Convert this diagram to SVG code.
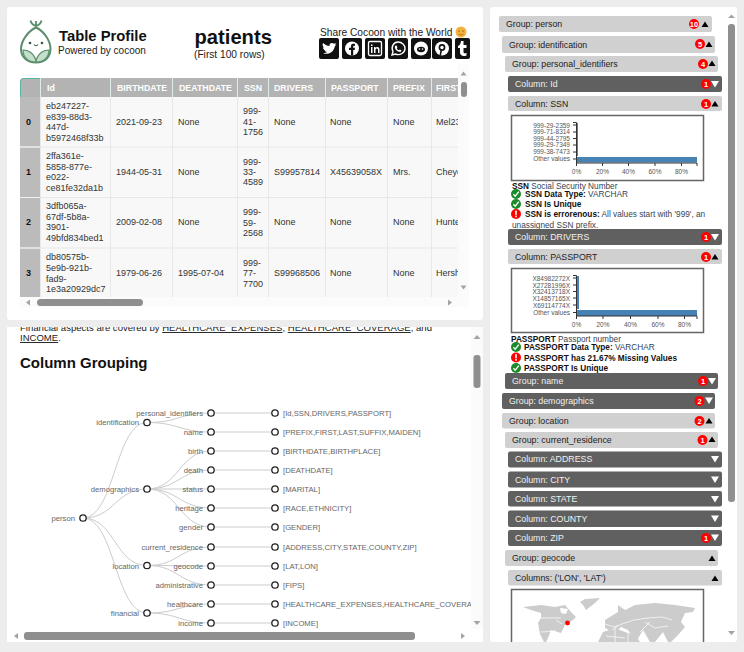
<svg xmlns="http://www.w3.org/2000/svg" width="744" height="652" viewBox="0 0 744 652">
<style>
text{font-family:"Liberation Sans",Arial,sans-serif}
.t{font-size:9px;fill:#333}
.i{font-size:9px;font-weight:bold;fill:#111}
.h{font-size:8.800px;font-weight:bold;fill:#fff}
.vl{stroke:#e8e8e8;stroke-width:1}
.hs{stroke:#dbeee9;stroke-width:1}
.tree{font-size:7.700px;fill:#666}
.link{fill:none;stroke:#ccc;stroke-width:1}
.dot{fill:#fff;stroke:#222;stroke-width:1.3}
.bl{fill:#d0d0d0}
.bd{fill:#606060}
.lt{font-size:8.800px;fill:#222}
.dt{font-size:8.800px;fill:#f0f0f0}
.bad{fill:#f00}
.num{font-size:7.500px;font-weight:bold;fill:#fff;text-anchor:middle}
.up{fill:#000}
.dn{fill:#fff}
.sb{fill:#8f8f8f}
.ar{fill:#a3a3a3}
.ax{font-size:6.500px;fill:#555}
.axr{text-anchor:end}
.axm{text-anchor:middle}
.axl{stroke:#333;stroke-width:1;fill:none}
.bar{fill:#4682b4}
.box{fill:#fff;stroke:#666;stroke-width:1.5}
.d{font-size:8.250px;fill:#345}
.db{font-size:8.250px;font-weight:bold;fill:#111}
.ok{fill:#1a8a2a}
.ic{fill:#fff}
.soc{fill:#111}
.land{fill:#ccc}
</style>
<defs>
<clipPath id="tbl"><rect x="20" y="78" width="438" height="219"/></clipPath>
<clipPath id="low"><rect x="7" y="327" width="464" height="315"/></clipPath>
<clipPath id="map"><rect x="512" y="590" width="191" height="52"/></clipPath>
<path id="tu" d="M-3.500 2.500L0-3 3.500 2.500Z"/>
<path id="td" d="M-4-3H4L0 3.500Z"/>
<g id="okc"><circle r="5" class="ok"/><path d="M-2.600 .2L-.8 2.200 2.800-2.400" fill="none" stroke="#fff" stroke-width="1.300"/></g>
<g id="err"><circle r="5" class="bad"/><rect x="-.8" y="-3.400" width="1.600" height="4.200" fill="#fff"/><rect x="-.8" y="1.600" width="1.600" height="1.600" fill="#fff"/></g>
</defs>

<rect width="744" height="652" fill="#ededed"/>
<rect x="7" y="7" width="476" height="313" rx="3" fill="#fff"/>
<rect x="7" y="327" width="476" height="315" fill="#fff"/>
<rect x="490" y="7" width="247" height="635" rx="3" fill="#fff"/>

<g id="logo">
<path d="M36 21V28M36 26C33 25 31 23 30.500 20.500M36 26C39 25 41 23 41.500 20.500" fill="none" stroke="#5d8f6d" stroke-width="1.800"/>
<path d="M36 27.500C28 31 21 41 21 49C21 57 27 62.500 36 62.500C45 62.500 50.500 57 50.500 49C50.500 41 44 31 36 27.500Z" fill="#fff" stroke="#5d8f6d" stroke-width="2"/>
<path d="M36 62C28 62 23 57 23 50C29 50 35 54 36 62ZM36 62C44 62 49 57 49 50C43 50 37 54 36 62Z" fill="#c4e0cd" stroke="#5d8f6d" stroke-width="1.200"/>
<circle cx="30" cy="43" r="1.300" fill="#2e5a3c"/><circle cx="42" cy="43" r="1.300" fill="#2e5a3c"/>
<path d="M34 44.500Q36 47 38 44.500" fill="none" stroke="#2e5a3c" stroke-width="1.100"/>
</g>
<g id="title">
<text x="59" y="41" font-size="14.800" font-weight="bold" fill="#111">Table Profile</text>
<text x="58" y="54" font-size="10" fill="#222">Powered by cocoon</text>
<text x="194.500" y="44" font-size="20.200" font-weight="bold" fill="#111">patients</text>
<text x="194" y="58" font-size="10.200" fill="#222">(First 100 rows)</text>
<text x="320" y="36" font-size="10.200" fill="#222">Share Cocoon with the World</text>
<circle cx="461" cy="32" r="5.500" fill="#f4b23c"/>
<path d="M458 31.500Q459 30 460 31.500M462 31.500Q463 30 464 31.500M458.500 34Q461 36.500 463.500 34" fill="none" stroke="#a5601c" stroke-width=".8"/>
</g>
<g id="social">
<rect class="soc" x="319" y="38" width="20" height="21" rx="2"/>
<path class="ic" d="M322 53C325 54.500 333 55 335 46L336.500 44.500 335 44.800 336 43 334 43.800C332 42 329 43.500 329.500 46C327 46 324.500 44.500 323 43C322 45 323 47 324 47.500L323 47.300C323 49 324 50 325.500 50.500L324.500 50.600C325 51.500 326 52 327 52C326 53 324 53.500 322 53Z"/>
<rect class="soc" x="342" y="38" width="20" height="21" rx="2"/>
<circle class="ic" cx="352" cy="48.500" r="7"/><path class="soc" d="M351 55.500V50H349V47.800H351V46C351 44 352.500 43.500 355 43.800V45.800C353.500 45.600 353.200 46 353.200 47V47.800H355L354.700 50H353.200V55.500Z"/>
<rect class="soc" x="365" y="38" width="20" height="21" rx="2"/>
<rect x="368.500" y="41.500" width="13" height="14" rx="1.500" fill="none" stroke="#fff" stroke-width="1.300"/>
<path class="ic" d="M371 47H372.500V53H371ZM371 44.500H372.500V46H371ZM374 47H375.500V48C376.500 46.500 379.500 46.500 379.500 49.500V53H378V50C378 48 375.500 48 375.500 50V53H374Z"/>
<rect class="soc" x="388" y="38" width="20" height="21" rx="2"/>
<path d="M392 55L393 51.500C390.500 46.500 394 42 398 42C402 42 405 45 405 48.500C405 52.500 400 56 395.500 54Z" fill="none" stroke="#fff" stroke-width="1.400"/>
<path class="ic" d="M395 46C394 48.500 397 52 400.500 52L401.500 50.500 399.800 49.500 399 50.300C398 50 397 49 396.800 48L397.500 47.300 396.500 45.500Z"/>
<rect class="soc" x="411" y="38" width="20" height="21" rx="2"/>
<circle class="ic" cx="421" cy="48.500" r="7"/><ellipse class="soc" cx="421" cy="49.500" rx="4" ry="2.800"/><circle class="ic" cx="419.500" cy="49" r=".8"/><circle class="ic" cx="422.500" cy="49" r=".8"/>
<rect class="soc" x="432" y="38" width="20" height="21" rx="2"/>
<circle class="ic" cx="442" cy="48.500" r="7"/><circle class="soc" cx="442" cy="47.500" r="3.400"/><circle class="ic" cx="442" cy="47.500" r="1.700"/><path class="soc" d="M440.500 50L439.500 55.500H441L442 51Z"/>
<rect class="soc" x="455" y="38" width="15" height="21" rx="2"/>
<path class="ic" d="M461 41H463.500V45H466.500V48H463.500V52C463.500 53.500 465 53.500 466.500 53V55.500C463 57 460 55.500 460 52.500V48H458V46C460 45.500 460.700 43.500 461 41Z"/>
</g>

<g id="table" clip-path="url(#tbl)">
<rect x="20" y="78" width="438" height="219" fill="#f8f8f8"/>
<path d="M20 97V81.500Q20 78 24 78H458V97Z" fill="#b3b3b3"/>
<rect x="20" y="97" width="20" height="200" fill="#bbb"/>
<path d="M20.500 97V82Q20.500 78.500 24 78.500H40" fill="none" stroke="#5cb8a4"/>
<g class="hs"><path d="M40.500 78V97M110.500 78V97M172.500 78V97M237.500 78V97M268.500 78V97M325.500 78V97M387.500 78V97M431.500 78V97"/></g>
<g class="vl"><path d="M40.500 97V297M110.500 97V297M172.500 97V297M237.500 97V297M268.500 97V297M325.500 97V297M387.500 97V297M431.500 97V297M20 147H458M20 197.500H458M20 248H458"/></g>
<path d="M20 147H40M20 197.500H40M20 248H40" stroke="#f0f0f0"/>
<text class="h" x="47" y="91">Id</text><text class="h" x="117" y="91">BIRTHDATE</text><text class="h" x="179" y="91">DEATHDATE</text><text class="h" x="244" y="91">SSN</text><text class="h" x="274" y="91">DRIVERS</text><text class="h" x="331" y="91">PASSPORT</text><text class="h" x="393" y="91">PREFIX</text><text class="h" x="436" y="91">FIRST</text>
<text class="i" x="26" y="125">0</text><text class="i" x="26" y="175">1</text><text class="i" x="26" y="225">2</text><text class="i" x="26" y="276">3</text>
<text class="t" x="46" y="109">eb247227-</text><text class="t" x="46" y="119.500">e839-88d3-</text><text class="t" x="46" y="130">447d-</text><text class="t" x="46" y="141">b5972468f33b</text>
<text class="t" x="46" y="159">2ffa361e-</text><text class="t" x="46" y="170">5858-877e-</text><text class="t" x="46" y="180">e022-</text><text class="t" x="46" y="191">ce81fe32da1b</text>
<text class="t" x="46" y="209">3dfb065a-</text><text class="t" x="46" y="219.500">67df-5b8a-</text><text class="t" x="46" y="230">3901-</text><text class="t" x="46" y="241">49bfd834bed1</text>
<text class="t" x="46" y="260">db80575b-</text><text class="t" x="46" y="271">5e9b-921b-</text><text class="t" x="46" y="281.500">fad9-</text><text class="t" x="46" y="292">1e3a20929dc7</text>
<text class="t" x="116" y="125">2021-09-23</text><text class="t" x="116" y="175">1944-05-31</text><text class="t" x="116" y="225">2009-02-08</text><text class="t" x="116" y="276">1979-06-26</text>
<text class="t" x="178" y="125">None</text><text class="t" x="178" y="175">None</text><text class="t" x="178" y="225">None</text><text class="t" x="178" y="276">1995-07-04</text>
<text class="t" x="243" y="114">999-</text><text class="t" x="243" y="125">41-</text><text class="t" x="243" y="135">1756</text>
<text class="t" x="243" y="164.500">999-</text><text class="t" x="243" y="175">33-</text><text class="t" x="243" y="185">4589</text>
<text class="t" x="243" y="215">999-</text><text class="t" x="243" y="226">59-</text><text class="t" x="243" y="236">2568</text>
<text class="t" x="243" y="266">999-</text><text class="t" x="243" y="276">77-</text><text class="t" x="243" y="287">7700</text>
<text class="t" x="274" y="125">None</text><text class="t" x="274" y="175">S99957814</text><text class="t" x="274" y="225">None</text><text class="t" x="274" y="276">S99968506</text>
<text class="t" x="330" y="125">None</text><text class="t" x="330" y="175">X45639058X</text><text class="t" x="330" y="225">None</text><text class="t" x="330" y="276">None</text>
<text class="t" x="393" y="125">None</text><text class="t" x="393" y="175">Mrs.</text><text class="t" x="393" y="225">None</text><text class="t" x="393" y="276">None</text>
<text class="t" x="436" y="125">Mel23</text><text class="t" x="436" y="175">Cheyenne</text><text class="t" x="436" y="225">Hunter</text><text class="t" x="436" y="276">Hershel</text>
</g>
<g id="table-scrollbars">
<rect x="458" y="64" width="11" height="243" fill="#fbfbfb"/>
<rect x="19" y="297" width="450" height="10" fill="#fbfbfb"/>
<rect class="sb" x="461" y="82" width="6" height="15" rx="3"/>
<rect class="sb" x="37" y="299" width="106" height="7" rx="3.500"/>
<path class="ar" d="M463.500 71.500L466.500 75.500H460.500ZM463.500 289.500L466.500 285.500H460.500ZM26 302.500L30 299.500V305.500ZM452 302.500L448 299.500V305.500Z"/>
</g>

<g clip-path="url(#low)">
<g id="article">
<text x="20" y="331" font-size="9.550" fill="#222">Financial aspects are covered by <tspan text-decoration="underline">HEALTHCARE_EXPENSES</tspan>, <tspan text-decoration="underline">HEALTHCARE_COVERAGE</tspan>, and</text>
<text x="20" y="341" font-size="9.550" fill="#222"><tspan text-decoration="underline">INCOME</tspan>.</text>
<text x="20" y="368" font-size="15" font-weight="bold" fill="#111">Column Grouping</text>
</g>
<g id="connectors">
<path class="link" d="M83 518C115 518 115 422.500 147 422.500M83 518C115 518 115 489 147 489M83 518C115 518 115 565.500 147 565.500M83 518C115 518 115 613 147 613"/>
<path class="link" d="M147 422.500C179 422.500 179 413 211 413M147 422.500C179 422.500 179 432 211 432M147 489C179 489 179 451 211 451M147 489C179 489 179 470 211 470M147 489H211M147 489C179 489 179 508 211 508M147 489C179 489 179 527 211 527M147 565.500C179 565.500 179 547 211 547M147 565.500C179 565.500 179 566 211 566M147 565.500C179 565.500 179 585 211 585M147 613C179 613 179 604 211 604M147 613C179 613 179 623 211 623"/>
<path class="link" d="M211 413H275M211 432H275M211 451H275M211 470H275M211 489H275M211 508H275M211 527H275M211 547H275M211 566H275M211 585H275M211 604H275M211 623H275"/>
</g>
<g id="n-person"><circle class="dot" cx="83" cy="518" r="3.200"/><text class="tree" x="75" y="521" text-anchor="end">person</text></g>
<g id="n-identification"><circle class="dot" cx="147" cy="422.500" r="3.200"/><text class="tree" x="139" y="425" text-anchor="end">identification</text></g>
<g id="n-demographics"><circle class="dot" cx="147" cy="489" r="3.200"/><text class="tree" x="139" y="492" text-anchor="end">demographics</text></g>
<g id="n-location"><circle class="dot" cx="147" cy="565.500" r="3.200"/><text class="tree" x="139" y="569" text-anchor="end">location</text></g>
<g id="n-financial"><circle class="dot" cx="147" cy="613" r="3.200"/><text class="tree" x="139" y="616" text-anchor="end">financial</text></g>
<g id="n-personal_identifiers"><circle class="dot" cx="211" cy="413" r="3.200"/><text class="tree" x="203" y="416" text-anchor="end">personal_identifiers</text><circle class="dot" cx="275" cy="413" r="3.200"/><text class="tree" x="283" y="416">[Id,SSN,DRIVERS,PASSPORT]</text></g>
<g id="n-name"><circle class="dot" cx="211" cy="432" r="3.200"/><text class="tree" x="203" y="435" text-anchor="end">name</text><circle class="dot" cx="275" cy="432" r="3.200"/><text class="tree" x="283" y="435">[PREFIX,FIRST,LAST,SUFFIX,MAIDEN]</text></g>
<g id="n-birth"><circle class="dot" cx="211" cy="451" r="3.200"/><text class="tree" x="203" y="454" text-anchor="end">birth</text><circle class="dot" cx="275" cy="451" r="3.200"/><text class="tree" x="283" y="454">[BIRTHDATE,BIRTHPLACE]</text></g>
<g id="n-death"><circle class="dot" cx="211" cy="470" r="3.200"/><text class="tree" x="203" y="473" text-anchor="end">death</text><circle class="dot" cx="275" cy="470" r="3.200"/><text class="tree" x="283" y="473">[DEATHDATE]</text></g>
<g id="n-status"><circle class="dot" cx="211" cy="489" r="3.200"/><text class="tree" x="203" y="492" text-anchor="end">status</text><circle class="dot" cx="275" cy="489" r="3.200"/><text class="tree" x="283" y="492">[MARITAL]</text></g>
<g id="n-heritage"><circle class="dot" cx="211" cy="508" r="3.200"/><text class="tree" x="203" y="511" text-anchor="end">heritage</text><circle class="dot" cx="275" cy="508" r="3.200"/><text class="tree" x="283" y="511">[RACE,ETHNICITY]</text></g>
<g id="n-gender"><circle class="dot" cx="211" cy="527" r="3.200"/><text class="tree" x="203" y="530" text-anchor="end">gender</text><circle class="dot" cx="275" cy="527" r="3.200"/><text class="tree" x="283" y="530">[GENDER]</text></g>
<g id="n-current_residence"><circle class="dot" cx="211" cy="547" r="3.200"/><text class="tree" x="203" y="550" text-anchor="end">current_residence</text><circle class="dot" cx="275" cy="547" r="3.200"/><text class="tree" x="283" y="550">[ADDRESS,CITY,STATE,COUNTY,ZIP]</text></g>
<g id="n-geocode"><circle class="dot" cx="211" cy="566" r="3.200"/><text class="tree" x="203" y="569" text-anchor="end">geocode</text><circle class="dot" cx="275" cy="566" r="3.200"/><text class="tree" x="283" y="569">[LAT,LON]</text></g>
<g id="n-administrative"><circle class="dot" cx="211" cy="585" r="3.200"/><text class="tree" x="203" y="588" text-anchor="end">administrative</text><circle class="dot" cx="275" cy="585" r="3.200"/><text class="tree" x="283" y="588">[FIPS]</text></g>
<g id="n-healthcare"><circle class="dot" cx="211" cy="604" r="3.200"/><text class="tree" x="203" y="607" text-anchor="end">healthcare</text><circle class="dot" cx="275" cy="604" r="3.200"/><text class="tree" x="283" y="607">[HEALTHCARE_EXPENSES,HEALTHCARE_COVERAGE]</text></g>
<g id="n-income"><circle class="dot" cx="211" cy="623" r="3.200"/><text class="tree" x="203" y="626" text-anchor="end">income</text><circle class="dot" cx="275" cy="623" r="3.200"/><text class="tree" x="283" y="626">[INCOME]</text></g>
</g>
<g id="lower-scrollbars">
<rect x="471" y="327" width="12" height="315" fill="#fbfbfb"/>
<rect x="7" y="629" width="476" height="13" fill="#fff"/>
<rect class="sb" x="473.500" y="355" width="7" height="33" rx="3"/>
<rect class="sb" x="24" y="632" width="391" height="8" rx="3"/>
<path class="ar" d="M477 335L480.500 339H473.500ZM477 625L480.500 621H473.500ZM14 636L18 633V639ZM465 636L461 633V639Z"/>
</g>

<g id="right-scrollbar">
<rect class="sb" x="728" y="24" width="7" height="478" rx="3"/>
<path class="ar" d="M731.500 14.500L735 18H728ZM731.500 635L735 631H728Z"/>
</g>

<g id="g-person"><rect class="bl" x="499" y="16" width="213" height="16" rx="2"/><text class="lt" x="506" y="27">Group: person</text><circle class="bad" cx="694" cy="24" r="5"/><text class="num" x="694" y="26.700">10</text><use href="#tu" class="up" x="705" y="24.500"/></g>
<g id="g-identification"><rect class="bl" x="502" y="36" width="213" height="17" rx="2"/><text class="lt" x="509" y="48">Group: identification</text><circle class="bad" cx="700" cy="44" r="5"/><text class="num" x="700" y="46.700">5</text><use href="#tu" class="up" x="709" y="44.500"/></g>
<g id="g-personal_identifiers"><rect class="bl" x="505" y="56" width="213" height="16" rx="2"/><text class="lt" x="512" y="67">Group: personal_identifiers</text><circle class="bad" cx="703" cy="64" r="5"/><text class="num" x="703" y="66.700">4</text><use href="#tu" class="up" x="712" y="63.500"/></g>
<g id="c-Id"><rect class="bd" x="508" y="76" width="214" height="16" rx="2"/><text class="dt" x="515" y="87">Column: Id</text><circle class="bad" cx="706" cy="84" r="5"/><text class="num" x="706" y="86.700">1</text><use href="#td" class="dn" x="715" y="84"/></g>
<g id="c-SSN"><rect class="bl" x="508" y="96" width="214" height="15" rx="2"/><text class="lt" x="515" y="107">Column: SSN</text><circle class="bad" cx="706" cy="104" r="5"/><text class="num" x="706" y="106.700">1</text><use href="#tu" class="up" x="715" y="104"/></g>
<g id="chart-ssn">
<rect class="box" x="511.500" y="115.500" width="192" height="65"/>
<rect class="bar" x="576" y="123" width="2" height="33"/>
<rect class="bar" x="576" y="157" width="121" height="5.500"/>
<path class="axl" d="M573 122.500H576.500V163H697M573 125H576M573 132H576M573 138.500H576M573 145H576M573 152H576M573 159H576M576.500 163V166M602.500 163V166M628.500 163V166M655 163V166M681.500 163V166M697 163V166"/>
<g class="ax axr"><text x="570" y="127.500">999-29-2359</text><text x="570" y="134">999-71-8314</text><text x="570" y="140.500">999-44-2795</text><text x="570" y="147">999-29-7349</text><text x="570" y="154">999-38-7473</text><text x="570" y="161">Other values</text></g>
<g class="ax axm"><text x="576.500" y="174">0%</text><text x="602.500" y="174">20%</text><text x="628.500" y="174">40%</text><text x="655" y="174">60%</text><text x="681.500" y="174">80%</text></g>
</g>
<g id="desc-ssn">
<text x="512" y="188.500" class="d"><tspan class="db">SSN</tspan> Social Security Number</text>
<use href="#okc" x="516" y="194"/><text x="525" y="197" class="d"><tspan class="db">SSN Data Type:</tspan> VARCHAR</text>
<use href="#okc" x="516" y="204"/><text x="525" y="207" class="db">SSN Is Unique</text>
<use href="#err" x="516" y="214"/><text x="525" y="217" class="d"><tspan class="db">SSN is errorenous:</tspan> All values start with '999', an</text>
<text x="512" y="228" class="d">unassigned SSN prefix.</text>
</g>
<g id="c-DRIVERS"><rect class="bd" x="508" y="229" width="214" height="16" rx="2"/><text class="dt" x="515" y="240">Column: DRIVERS</text><circle class="bad" cx="706" cy="237" r="5"/><text class="num" x="706" y="239.700">1</text><use href="#td" class="dn" x="715" y="237"/></g>
<g id="c-PASSPORT"><rect class="bl" x="508" y="249" width="214" height="15" rx="2"/><text class="lt" x="515" y="260">Column: PASSPORT</text><circle class="bad" cx="706" cy="257" r="5"/><text class="num" x="706" y="259.700">1</text><use href="#tu" class="up" x="715" y="257"/></g>
<g id="chart-passport">
<rect class="box" x="511.500" y="268.500" width="192" height="64"/>
<rect class="bar" x="576" y="276" width="3" height="33"/>
<rect class="bar" x="576" y="310" width="121" height="6"/>
<path class="axl" d="M573 275.500H576.500V316H697M573 278H576M573 285H576M573 291.500H576M573 298H576M573 305H576M573 312.500H576M576.500 316V319M603 316V319M630.500 316V319M658 316V319M684.500 316V319M697 316V319"/>
<g class="ax axr"><text x="570" y="281">X84982272X</text><text x="570" y="287.500">X27281996X</text><text x="570" y="294">X32413718X</text><text x="570" y="301">X14857165X</text><text x="570" y="308">X69114774X</text><text x="570" y="315">Other values</text></g>
<g class="ax axm"><text x="576.500" y="327">0%</text><text x="603" y="327">20%</text><text x="630.500" y="327">40%</text><text x="658" y="327">60%</text><text x="684.500" y="327">80%</text></g>
</g>
<g id="desc-passport">
<text x="511" y="341.500" class="d"><tspan class="db">PASSPORT</tspan> Passport number</text>
<use href="#okc" x="516" y="347"/><text x="524" y="350" class="d"><tspan class="db">PASSPORT Data Type:</tspan> VARCHAR</text>
<use href="#err" x="516" y="357.500"/><text x="524" y="360.500" class="db">PASSPORT has 21.67% Missing Values</text>
<use href="#okc" x="516" y="368"/><text x="524" y="371" class="db">PASSPORT Is Unique</text>
</g>
<g id="g-name"><rect class="bd" x="505" y="373" width="213" height="16" rx="2"/><text class="dt" x="512" y="384">Group: name</text><circle class="bad" cx="703" cy="381" r="5"/><text class="num" x="703" y="383.700">1</text><use href="#td" class="dn" x="712" y="381"/></g>
<g id="g-demographics"><rect class="bd" x="502" y="393" width="213" height="16" rx="2"/><text class="dt" x="509" y="404">Group: demographics</text><circle class="bad" cx="699.500" cy="401" r="5"/><text class="num" x="699.500" y="403.700">2</text><use href="#td" class="dn" x="709" y="400.500"/></g>
<g id="g-location"><rect class="bl" x="502" y="413" width="213" height="15.500" rx="2"/><text class="lt" x="509" y="424">Group: location</text><circle class="bad" cx="699.500" cy="421" r="5"/><text class="num" x="699.500" y="423.700">2</text><use href="#tu" class="up" x="709" y="421"/></g>
<g id="g-current_residence"><rect class="bl" x="505" y="432" width="213" height="16" rx="2"/><text class="lt" x="512" y="443">Group: current_residence</text><circle class="bad" cx="702.500" cy="440" r="5"/><text class="num" x="702.500" y="442.700">1</text><use href="#tu" class="up" x="712" y="439.500"/></g>
<g id="c-ADDRESS"><rect class="bd" x="508" y="451.500" width="214" height="16" rx="2"/><text class="dt" x="515" y="462">Column: ADDRESS</text><use href="#td" class="dn" x="715" y="459"/></g>
<g id="c-CITY"><rect class="bd" x="508" y="471.500" width="214" height="16" rx="2"/><text class="dt" x="515" y="482.500">Column: CITY</text><use href="#td" class="dn" x="715" y="479.500"/></g>
<g id="c-STATE"><rect class="bd" x="508" y="491" width="214" height="15.500" rx="2"/><text class="dt" x="515" y="502">Column: STATE</text><use href="#td" class="dn" x="715" y="499"/></g>
<g id="c-COUNTY"><rect class="bd" x="508" y="510.500" width="214" height="16.500" rx="2"/><text class="dt" x="515" y="521.500">Column: COUNTY</text><use href="#td" class="dn" x="715" y="518.500"/></g>
<g id="c-ZIP"><rect class="bd" x="508" y="530" width="214" height="16" rx="2"/><text class="dt" x="515" y="541">Column: ZIP</text><circle class="bad" cx="706" cy="538" r="5"/><text class="num" x="706" y="540.700">1</text><use href="#td" class="dn" x="715" y="537.500"/></g>
<g id="g-geocode"><rect class="bl" x="505" y="550" width="213" height="16" rx="2"/><text class="lt" x="512" y="561">Group: geocode</text><use href="#tu" class="up" x="712" y="558.500"/></g>
<g id="c-lonlat"><rect class="bl" x="508" y="570" width="214" height="15.500" rx="2"/><text class="lt" x="515" y="581">Columns: ('LON', 'LAT')</text><use href="#tu" class="up" x="715" y="578.500"/></g>
<g id="chart-map">
<path d="M511.500 642.500V589.500H703.500V642.500" fill="#fff" stroke="#666" stroke-width="1.500"/>
<g clip-path="url(#map)">
<path class="land" d="M523 607L541 605 555 607 565 605 571 612 576 617 573 620 565 625 561 633 551 630 548 638 546 642H544L540 634 538 623 541 618 541 613 531 610Z"/>
<path d="M560 608L568 609 566 614 561 613Z" fill="#fff"/>
<path class="land" d="M580 602L585 599 600 598 595 603 586 610 583 605Z"/>
<path class="land" d="M618 605L625 610 635 605 655 603 675 605 695 608 693 612 685 613 681 622 685 627 678 635 671 642H668L663 632 655 642H650L643 630 636 642 628 630 621 627 615 633 605 628 605 620 613 615 618 612Z"/>
<path class="land" d="M598 642L603 632 615 628 625 632 635 635 640 642Z"/>
<path d="M605 624L614 627 622 624 634 620 648 618 662 617 672 620M612 630L618 626M640 632L650 622M606 636L625 638M615 628V642M628 632V642M645 622L655 628 668 626" fill="none" stroke="#fff" stroke-width=".7"/>
<path d="M541 618H561M556 620L562 624M541 632L556 631" fill="none" stroke="#fff" stroke-width=".7"/>
</g>
<circle class="bad" cx="567.500" cy="623" r="2.400"/>
</g>
<rect x="490" y="642" width="254" height="10" fill="#ededed"/>
</svg>
